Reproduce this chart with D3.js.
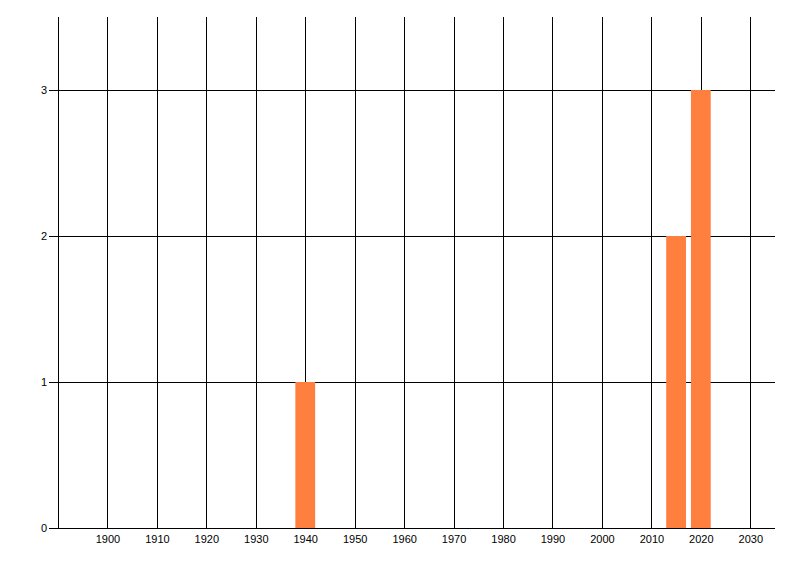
<!DOCTYPE html>
<html>
<head>
<meta charset="utf-8">
<script src="https://d3js.org/d3.v7.min.js"></script>
<style>
    body { margin: 0; background: #fff; }
    .tick text { font-family: "Liberation Sans", Arial, sans-serif; font-size: 11px; fill: #000; }
</style>
</head>
<body>
<div id="chart-area"></div>
<script>

// Data
var years = [1940, 2015, 2020];
var counts = [1, 2, 3];
var xTicks = [1900, 1910, 1920, 1930, 1940, 1950, 1960, 1970, 1980, 1990, 2000, 2010, 2020, 2030];
var yTicks = [0, 1, 2, 3];


/*
 *  BarChart - Object constructor function
 */

BarChart = function(_parentElement, _years, _counts) {

    this.parentElement = _parentElement;
    this.data = _years.map(function (y, i) { return { year: y, count: _counts[i] }; });

    this.initVis();
}

BarChart.prototype.initVis = function() {
    var vis = this;

    vis.margin = { top: 17, right: 25, bottom: 48, left: 58 };
    vis.width = 800 - vis.margin.left - vis.margin.right;
    vis.height = 576 - vis.margin.top - vis.margin.bottom;

    vis.svg = d3.select("#" + vis.parentElement).append("svg")
            .attr("width", 800)
            .attr("height", 576)
        .append("g")
            .attr("transform", "translate(" + vis.margin.left + "," + vis.margin.top + ")");

    vis.x = d3.scaleLinear().domain([1890, 2035]).range([0, vis.width]);
    vis.y = d3.scaleLinear().domain([0, 3.5]).range([vis.height, 0]);

    vis.updateVis();
}

BarChart.prototype.updateVis = function() {
    var vis = this;

    // vertical grid lines
    vis.svg.selectAll(".vgrid").data(xTicks)
        .enter().append("line")
        .attr("class", "vgrid")
        .attr("x1", function (d) { return Math.round(vis.x(d)) + 0.5; })
        .attr("x2", function (d) { return Math.round(vis.x(d)) + 0.5; })
        .attr("y1", 0)
        .attr("y2", vis.height)
        .attr("stroke", "#000");

    // horizontal grid lines (with tick stubs on the left)
    vis.svg.selectAll(".hgrid").data(yTicks)
        .enter().append("line")
        .attr("class", "hgrid")
        .attr("x1", -9)
        .attr("x2", vis.width)
        .attr("y1", function (d) { return Math.round(vis.y(d)) + 0.5; })
        .attr("y2", function (d) { return Math.round(vis.y(d)) + 0.5; })
        .attr("stroke", "#000");

    // left axis line
    vis.svg.append("line")
        .attr("x1", 0.5).attr("x2", 0.5)
        .attr("y1", 0).attr("y2", vis.height)
        .attr("stroke", "#000");

    // bars
    vis.svg.selectAll(".bar").data(vis.data)
        .enter().append("rect")
        .attr("class", "bar")
        .attr("x", function (d) { return vis.x(d.year - 2); })
        .attr("width", function (d) { return vis.x(d.year + 2) - vis.x(d.year - 2); })
        .attr("y", function (d) { return vis.y(d.count); })
        .attr("height", function (d) { return vis.height - vis.y(d.count); })
        .attr("fill", "#ff7f3f");

    // axes labels
    var xAxis = d3.axisBottom(vis.x).tickValues(xTicks).tickFormat(d3.format("d")).tickSize(0).tickPadding(7);
    var yAxis = d3.axisLeft(vis.y).tickValues(yTicks).tickFormat(d3.format("d")).tickSize(0).tickPadding(11);

    vis.svg.append("g")
        .attr("transform", "translate(0," + vis.height + ")")
        .call(xAxis)
        .call(function (g) { g.select(".domain").remove(); });

    vis.svg.append("g")
        .call(yAxis)
        .call(function (g) { g.select(".domain").remove(); });
}

new BarChart("chart-area", years, counts);

</script>
</body>
</html>
